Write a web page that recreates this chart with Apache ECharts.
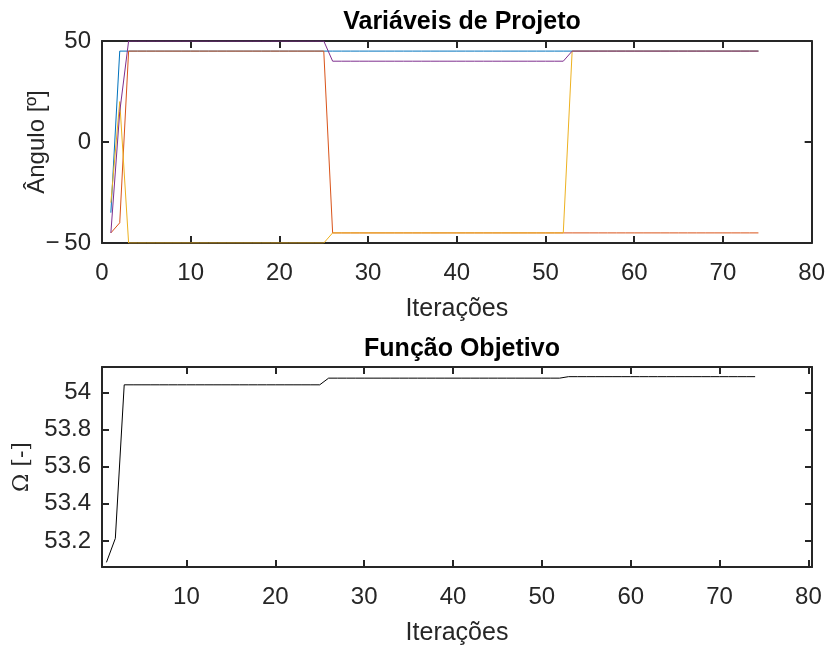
<!DOCTYPE html>
<html>
<head>
<meta charset="utf-8">
<script src="https://cdn.jsdelivr.net/npm/echarts@6/dist/echarts.min.js"></script>
<style>
  html, body { margin: 0; padding: 0; background: #fff; }
  #chart { width: 828px; height: 647px; }
</style>
</head>
<body>
<div id="chart"></div>
<script>
// iterações 1..74
var iters = [1,2,3,4,5,6,7,8,9,10,11,12,13,14,15,16,17,18,19,20,21,22,23,24,25,26,27,28,29,30,31,32,33,34,35,36,37,38,39,40,41,42,43,44,45,46,47,48,49,50,51,52,53,54,55,56,57,58,59,60,61,62,63,64,65,66,67,68,69,70,71,72,73,74]

// variáveis de projeto (ângulos, graus)
var var1 = [-35,45,45,45,45,45,45,45,45,45,45,45,45,45,45,45,45,45,45,45,45,45,45,45,45,45,45,45,45,45,45,45,45,45,45,45,45,45,45,45,45,45,45,45,45,45,45,45,45,45,45,45,45,45,45,45,45,45,45,45,45,45,45,45,45,45,45,45,45,45,45,45,45,45]
var var2 = [-45,-40,45,45,45,45,45,45,45,45,45,45,45,45,45,45,45,45,45,45,45,45,45,45,45,-45,-45,-45,-45,-45,-45,-45,-45,-45,-45,-45,-45,-45,-45,-45,-45,-45,-45,-45,-45,-45,-45,-45,-45,-45,-45,-45,-45,-45,-45,-45,-45,-45,-45,-45,-45,-45,-45,-45,-45,-45,-45,-45,-45,-45,-45,-45,-45,-45]
var var3 = [-30,20,-50,-50,-50,-50,-50,-50,-50,-50,-50,-50,-50,-50,-50,-50,-50,-50,-50,-50,-50,-50,-50,-50,-50,-45,-45,-45,-45,-45,-45,-45,-45,-45,-45,-45,-45,-45,-45,-45,-45,-45,-45,-45,-45,-45,-45,-45,-45,-45,-45,-45,45,45,45,45,45,45,45,45,45,45,45,45,45,45,45,45,45,45,45,45,45,45]
var var4 = [-45,15,50,50,50,50,50,50,50,50,50,50,50,50,50,50,50,50,50,50,50,50,50,50,50,40,40,40,40,40,40,40,40,40,40,40,40,40,40,40,40,40,40,40,40,40,40,40,40,40,40,40,45,45,45,45,45,45,45,45,45,45,45,45,45,45,45,45,45,45,45,45,45,45]

// função objetivo
var objetivo = [53.085,53.214,54.041,54.041,54.041,54.041,54.041,54.041,54.041,54.041,54.041,54.041,54.041,54.041,54.041,54.041,54.041,54.041,54.041,54.041,54.041,54.041,54.041,54.041,54.041,54.077,54.077,54.077,54.077,54.077,54.077,54.077,54.077,54.077,54.077,54.077,54.077,54.077,54.077,54.077,54.077,54.077,54.077,54.077,54.077,54.077,54.077,54.077,54.077,54.077,54.077,54.077,54.085,54.085,54.085,54.085,54.085,54.085,54.085,54.085,54.085,54.085,54.085,54.085,54.085,54.085,54.085,54.085,54.085,54.085,54.085,54.085,54.085,54.085]

var xTicksTop = [0,10,20,30,40,50,60,70,80]
var yTicksTop = [-50,0,50]
var xTicksBottom = [10,20,30,40,50,60,70,80]
var yTicksBottom = [53.2,53.4,53.6,53.8,54]

var colors = ['#0072BD', '#D95319', '#EDB120', '#7E2F8E']
var txt = '#262626'
var font = 'Liberation Sans, Arial, sans-serif'

function pairs(ys) {
  var out = []
  for (var i = 0; i < iters.length; i++) {
    out.push([iters[i], ys[i]])
  }
  return out
}

function boxAxis(type, gridIndex, pos, min, max, ticks, showLabel, extra) {
  var ax = {
    type: 'value',
    gridIndex: gridIndex,
    position: pos,
    min: min,
    max: max,
    nameMoveOverlap: false,
    splitLine: { show: false },
    axisLine: { show: true, onZero: false, lineStyle: { color: txt, width: 2 } },
    axisTick: { show: true, inside: true, length: 7, customValues: ticks, lineStyle: { color: txt, width: 2 } },
    axisLabel: {
      show: showLabel,
      customValues: ticks,
      color: txt,
      fontFamily: font,
      fontSize: 24,
      margin: type === 'x' ? 18 : 11,
      formatter: function (v) { return String(v).replace('-', '\u2212\u2009') }
    }
  }
  for (var k in extra) ax[k] = extra[k]
  return ax
}

var chart = echarts.init(document.getElementById('chart'), null, { renderer: 'canvas' })

var series = []
var vars = [var1, var2, var3, var4]
for (var s = 0; s < vars.length; s++) {
  series.push({
    type: 'line',
    xAxisIndex: 0,
    yAxisIndex: 0,
    data: pairs(vars[s]),
    showSymbol: false,
    lineStyle: { color: colors[s], width: 1 },
    animation: false
  })
}
series.push({
  type: 'line',
  xAxisIndex: 2,
  yAxisIndex: 2,
  data: pairs(objetivo),
  showSymbol: false,
  lineStyle: { color: '#000', width: 1 },
  animation: false
})

chart.setOption({
  backgroundColor: '#fff',
  animation: false,
  title: [
    {
      text: 'Variáveis de Projeto',
      left: 457, top: 5, textAlign: 'center',
      textStyle: { fontFamily: font, fontSize: 25, fontWeight: 'bold', color: '#000' }
    },
    {
      text: 'Função Objetivo',
      left: 457, top: 332, textAlign: 'center',
      textStyle: { fontFamily: font, fontSize: 25, fontWeight: 'bold', color: '#000' }
    }
  ],
  grid: [
    { left: 102, right: 15, top: 41, height: 202 },
    { left: 102, right: 16, top: 367, height: 202 }
  ],
  xAxis: [
    boxAxis('x', 0, 'bottom', 0, 80, xTicksTop, true, {
      name: 'Iterações', nameLocation: 'middle', nameGap: 54,
      nameTextStyle: { color: txt, fontFamily: font, fontSize: 25 }
    }),
    boxAxis('x', 0, 'top', 0, 80, xTicksTop, false, {}),
    boxAxis('x', 1, 'bottom', 0.5, 80.4, xTicksBottom, true, {
      name: 'Iterações', nameLocation: 'middle', nameGap: 54,
      nameTextStyle: { color: txt, fontFamily: font, fontSize: 25 }
    }),
    boxAxis('x', 1, 'top', 0.5, 80.4, xTicksBottom, false, {})
  ],
  yAxis: [
    boxAxis('y', 0, 'left', -50, 50, yTicksTop, true, {
      name: 'Ângulo [º]', nameLocation: 'middle', nameGap: 53,
      nameTextStyle: { color: txt, fontFamily: font, fontSize: 24 }
    }),
    boxAxis('y', 0, 'right', -50, 50, yTicksTop, false, {}),
    boxAxis('y', 1, 'left', 53.06, 54.137, yTicksBottom, true, {
      name: 'Ω [-]', nameLocation: 'middle', nameGap: 69,
      nameTextStyle: { color: txt, fontFamily: 'DejaVu Serif, Liberation Serif, serif', fontSize: 22 }
    }),
    boxAxis('y', 1, 'right', 53.06, 54.137, yTicksBottom, false, {})
  ],
  series: series
})
</script>
</body>
</html>
